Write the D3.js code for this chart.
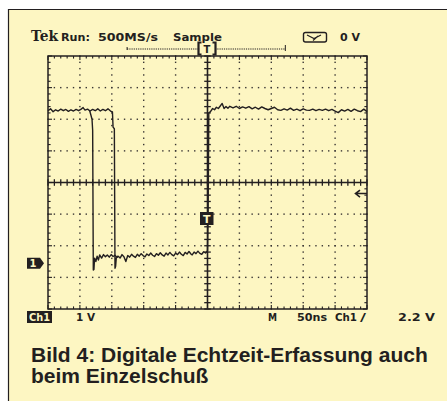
<!DOCTYPE html>
<html><head><meta charset="utf-8">
<script src="https://cdn.jsdelivr.net/npm/d3@7"></script>
<style>html,body{margin:0;padding:0;background:#fff;}svg{display:block;}</style>
</head><body>
<script>
// ---- data ----
const timeDomain = [-250, 250];          // ns, 50 ns/div, 10 div
const voltDomain = [-1.45, 6.55];        // V, 1 V/div, 8 div
const triggerLevel = 2.2;                // V
const recordWindow = [-126, 122];        // ns
// main trace: [time ns, volts]
const mainTrace = [
 [-250,4.82],[-246,4.88],[-242,4.79],[-238,4.85],[-234,4.81],[-230,4.87],[-226,4.82],[-222,4.86],
 [-218,4.80],[-214,4.85],[-210,4.81],[-206,4.86],[-202,4.82],[-198,4.87],[-195,4.92],[-192,4.84],
 [-188,4.87],[-184,4.81],[-180,4.86],[-176,4.82],[-172,4.88],[-168,4.81],[-164,4.86],[-160,4.82],
 [-156,4.88],[-152,4.81],[-149,4.78],[-148,4.30],[-146,4.25],[-145,-0.16],[-144,-0.10],[-143,0.16],
 [-140,0.22],[-137,0.16],[-134,0.27],[-131,0.20],[-128,0.05],[-125,0.24],[-122,0.19],[-119,0.28],
 [-116,0.22],[-113,0.18],[-110,0.28],[-107,0.22],[-104,0.30],[-101,0.24],[-98,0.20],[-95,0.29],
 [-92,0.24],[-89,0.32],[-86,0.25],[-83,0.21],[-80,0.30],[-77,0.25],[-74,0.33],[-71,0.26],
 [-68,0.22],[-65,0.32],[-62,0.26],[-59,0.34],[-56,0.27],[-53,0.23],[-50,0.32],[-47,0.27],
 [-44,0.35],[-41,0.28],[-38,0.24],[-35,0.34],[-32,0.29],[-29,0.37],[-26,0.29],[-24,0.26],
 [-21,0.35],[-18,0.30],[-15,0.38],[-12,0.31],[-9,0.28],[-6,0.36],[-3,0.32],[0,0.39],
 [1,1.6],[2,4.74],[5,4.80],[8,4.89],[11,4.85],[14,4.93],[17,4.89],[20,4.97],[23,5.05],[26,4.89],
 [29,4.95],[32,4.90],[35,4.96],[40,4.91],[45,4.96],[50,4.89],[55,4.94],[60,4.90],[65,4.95],
 [70,4.88],[75,4.93],[80,4.87],[85,4.94],[90,4.89],[95,4.85],[100,4.89],[105,4.93],[110,4.85],
 [115,4.83],[120,4.88],[125,4.84],[130,4.90],[135,4.83],[140,4.87],[145,4.82],[150,4.88],
 [155,4.84],[160,4.83],[165,4.87],[170,4.82],[175,4.86],[180,4.83],[185,4.87],[190,4.82],
 [195,4.86],[200,4.81],[205,4.76],[210,4.85],[215,4.81],[220,4.86],[225,4.80],[230,4.87],
 [235,4.82],[240,4.79],[245,4.87],[250,4.79]
];
// second (earlier) edge overlaid on the same screen
const glitchTrace = [
 [-185,4.84],[-183,4.70],[-181,4.55],[-180,4.20],[-179,-0.22],[-178,-0.20],[-177,0.16],
 [-175,0.05],[-173,0.22],[-171,0.10],[-169,0.26],[-166,0.16],[-163,0.27],[-160,0.20],
 [-157,0.26],[-154,0.19],[-151,0.27],[-148,0.21],[-145,0.25],[-142,0.19],[-140,0.22]
];
const headerLabels = ["Tek", "Run:", "500MS/s", "Sample", "0 V"];
const footerLabels = ["Ch1", "1 V", "M", "50ns", "Ch1", "/", "2.2 V"];
const captionLines = ["Bild 4: Digitale Echtzeit-Erfassung auch", "beim Einzelschuß"];

// ---- drawing ----
const W = 447, H = 401;
const ink = "#231f20", paper = "#fdf6c2";
const svg = d3.select("body").append("svg").attr("width", W).attr("height", H);
svg.append("rect").attr("width", W).attr("height", H).attr("fill", "#fff");
svg.append("rect").attr("x", 8).attr("y", 9).attr("width", W - 8).attr("height", H - 9).attr("fill", paper);
svg.append("path").attr("d", `M8.5,${H} V9.5 H${W}`).attr("fill", "none").attr("stroke", ink).attr("stroke-width", 1.2);

const x = d3.scaleLinear().domain(timeDomain).range([48, 367]);
const y = d3.scaleLinear().domain(voltDomain).range([309, 56]);
const x0 = x.range()[0], x1 = x.range()[1], y0 = y.range()[1], y1 = y.range()[0];
const nDivX = 10, nDivY = 8;
const xMaj = d3.range(nDivX + 1).map(i => x(timeDomain[0] + i * 50));
const yMaj = d3.range(nDivY + 1).map(i => y(voltDomain[0] + i));
const xMin = d3.range(nDivX * 5 + 1).map(i => x(timeDomain[0] + i * 10));
const yMin = d3.range(nDivY * 5 + 1).map(i => y(voltDomain[0] + i * 0.2));
const xc = x(0), yc = yMaj[4];

const g = svg.append("g");
// dotted graticule
xMaj.slice(1, -1).forEach((xv, i) => {
  if (i === 4) return;
  yMin.forEach(yv => g.append("rect").attr("x", xv - 0.7).attr("y", yv - 0.7).attr("width", 1.4).attr("height", 1.4).attr("fill", "#3a3634"));
});
yMaj.slice(1, -1).forEach((yv, i) => {
  if (i === 3) return;
  xMin.forEach(xv => g.append("rect").attr("x", xv - 0.7).attr("y", yv - 0.7).attr("width", 1.4).attr("height", 1.4).attr("fill", "#3a3634"));
});
// border
g.append("rect").attr("x", x0).attr("y", y0).attr("width", x1 - x0).attr("height", y1 - y0)
  .attr("fill", "none").attr("stroke", ink).attr("stroke-width", 1.5);
// border ticks
xMin.forEach((xv, i) => {
  const L = i % 5 === 0 ? 4 : 2.6;
  g.append("line").attr("x1", xv).attr("x2", xv).attr("y1", y0).attr("y2", y0 + L).attr("stroke", ink).attr("stroke-width", 1.1);
  g.append("line").attr("x1", xv).attr("x2", xv).attr("y1", y1).attr("y2", y1 - L).attr("stroke", ink).attr("stroke-width", 1.1);
});
yMin.forEach((yv, i) => {
  const L = i % 5 === 0 ? 4 : 2.6;
  g.append("line").attr("x1", x0).attr("x2", x0 + L).attr("y1", yv).attr("y2", yv).attr("stroke", ink).attr("stroke-width", 1.1);
  g.append("line").attr("x1", x1).attr("x2", x1 - L).attr("y1", yv).attr("y2", yv).attr("stroke", ink).attr("stroke-width", 1.1);
});
// center axes
g.append("line").attr("x1", x0).attr("x2", x1).attr("y1", yc).attr("y2", yc).attr("stroke", ink).attr("stroke-width", 1.6);
g.append("line").attr("x1", xc).attr("x2", xc).attr("y1", y0).attr("y2", y1).attr("stroke", ink).attr("stroke-width", 1.6);
xMin.forEach(xv => g.append("line").attr("x1", xv).attr("x2", xv).attr("y1", yc - 3.3).attr("y2", yc + 3.3).attr("stroke", ink).attr("stroke-width", 1.3));
yMin.forEach(yv => g.append("line").attr("x1", xc - 3.3).attr("x2", xc + 3.3).attr("y1", yv).attr("y2", yv).attr("stroke", ink).attr("stroke-width", 1.3));

// traces
const line = d3.line().x(d => x(d[0])).y(d => y(d[1]));
g.append("path").attr("d", line(glitchTrace)).attr("fill", "none").attr("stroke", ink).attr("stroke-width", 1.4).attr("stroke-linejoin", "round");
g.append("path").attr("d", line(mainTrace)).attr("fill", "none").attr("stroke", ink).attr("stroke-width", 1.4).attr("stroke-linejoin", "round");

// ground marker "1"
const gy = y(0);
g.append("path").attr("d", `M27,${gy - 5.5} H40 L44,${gy} L40,${gy + 5.5} H27 Z`).attr("fill", ink);
g.append("text").attr("x", 33).attr("y", gy + 4).attr("text-anchor", "middle").attr("fill", paper)
  .attr("font-family", "DejaVu Sans").attr("font-weight", "bold").attr("font-size", 10).text("1");
// trigger marker T at center
g.append("rect").attr("x", xc - 7.5).attr("y", 212).attr("width", 13.5).attr("height", 13).attr("fill", ink);
g.append("text").attr("x", xc - 0.8).attr("y", 223).attr("text-anchor", "middle").attr("fill", paper)
  .attr("font-family", "DejaVu Sans").attr("font-weight", "bold").attr("font-size", 11).text("T");
// trigger level arrow
const ty = y(triggerLevel);
g.append("path").attr("d", `M${x1},${ty} H356 M360,${ty - 3.5} L355.5,${ty} L360,${ty + 3.5}`)
  .attr("fill", "none").attr("stroke", ink).attr("stroke-width", 1.6);
// record window indicator
const wy = 49;
g.append("line").attr("x1", x(recordWindow[0])).attr("x2", x(recordWindow[1])).attr("y1", wy).attr("y2", wy)
  .attr("stroke", ink).attr("stroke-width", 1).attr("stroke-dasharray", "1.2,1");
g.append("line").attr("x1", x(recordWindow[0])).attr("x2", x(recordWindow[0])).attr("y1", wy - 2).attr("y2", wy + 1).attr("stroke", ink).attr("stroke-width", 1);
g.append("line").attr("x1", x(recordWindow[1])).attr("x2", x(recordWindow[1])).attr("y1", wy - 4).attr("y2", wy + 2).attr("stroke", ink).attr("stroke-width", 1);
g.append("rect").attr("x", xc - 8).attr("y", 43).attr("width", 16).attr("height", 12).attr("fill", paper);
g.append("path").attr("d", `M${xc - 6},42.5 h-3 v12 h3 M${xc + 5},42.5 h3 v12 h-3`).attr("fill", "none").attr("stroke", ink).attr("stroke-width", 2.2);
g.append("text").attr("x", xc - 0.5).attr("y", 53).attr("text-anchor", "middle").attr("fill", ink)
  .attr("font-family", "DejaVu Sans").attr("font-weight", "bold").attr("font-size", 10).text("T");

// header text
function lab(txt, xx, yy, w, opts = {}) {
  const t = svg.append("text").attr("x", xx).attr("y", yy).attr("fill", opts.fill || ink)
    .attr("font-family", opts.family || "DejaVu Sans").attr("font-weight", "bold")
    .attr("font-size", opts.size || 11).text(txt);
  if (w) t.attr("textLength", w).attr("lengthAdjust", "spacingAndGlyphs");
  return t;
}
lab(headerLabels[0], 31, 41, 27, { family: "DejaVu Serif", size: 14 });
lab(headerLabels[1], 61, 41, 29);
lab(headerLabels[2], 98, 41, 60);
lab(headerLabels[3], 173, 41, 49);
lab(headerLabels[4], 340, 41, 20);
// meter icon
svg.append("rect").attr("x", 303.5).attr("y", 32.5).attr("width", 23).attr("height", 9.5).attr("rx", 2)
  .attr("fill", "none").attr("stroke", ink).attr("stroke-width", 1.4);
svg.append("path").attr("d", "M307,35 L314,38.5 L321,35 M313,40.5 L318,36").attr("fill", "none").attr("stroke", ink).attr("stroke-width", 1.2);

// footer
svg.append("rect").attr("x", 27).attr("y", 311).attr("width", 25).attr("height", 12).attr("fill", ink);
lab(footerLabels[0], 29, 321, 21, { fill: paper });
lab(footerLabels[1], 76, 321, 19);
lab(footerLabels[2], 268, 321, 9);
lab(footerLabels[3], 297, 321, 30);
lab(footerLabels[4], 335, 321, 22);
lab(footerLabels[5], 360, 321, 6);
lab(footerLabels[6], 398, 321, 37);

// caption
captionLines.forEach((t, i) => {
  svg.append("text").attr("x", 31).attr("y", 362 + i * 21).attr("fill", ink)
    .attr("font-family", "Liberation Sans, Arial, sans-serif").attr("font-weight", "bold")
    .attr("font-size", 21).text(t);
});
</script>
</body></html>
